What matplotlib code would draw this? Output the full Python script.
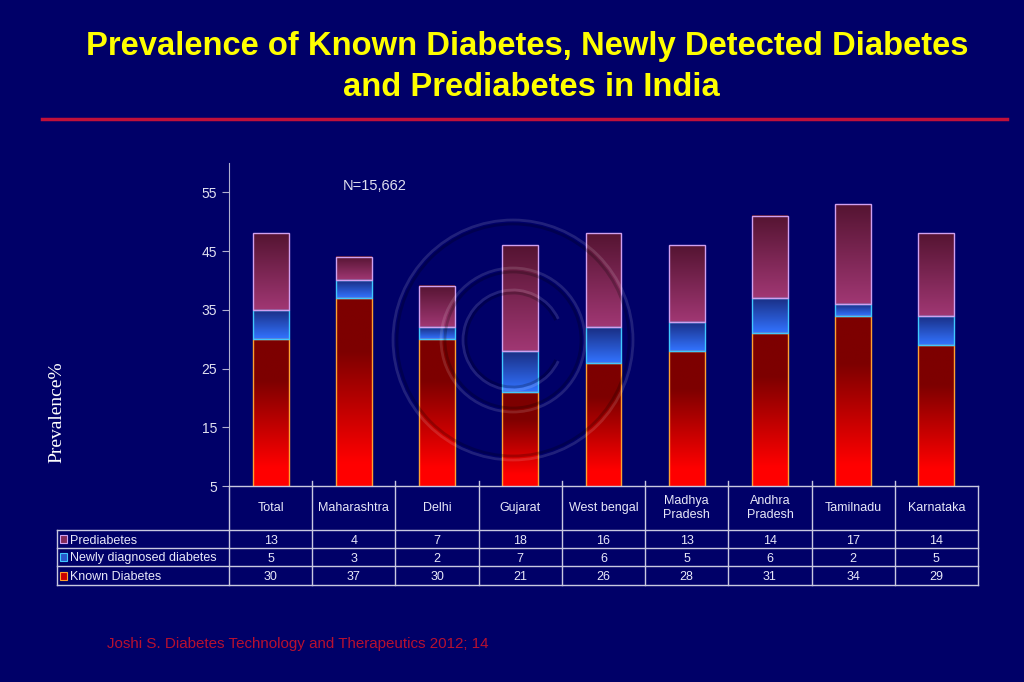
import numpy as np
import matplotlib
matplotlib.use("Agg")
import matplotlib.pyplot as plt
from matplotlib.patches import Rectangle, Arc, Ellipse

categories = ["Total", "Maharashtra", "Delhi", "Gujarat", "West bengal",
              "Madhya\nPradesh", "Andhra\nPradesh", "Tamilnadu", "Karnataka"]
known = [30, 37, 30, 21, 26, 28, 31, 34, 29]
newly = [5, 3, 2, 7, 6, 5, 6, 2, 5]
prediab = [13, 4, 7, 18, 16, 13, 14, 17, 14]
series_names = ["Prediabetes", "Newly diagnosed diabetes", "Known Diabetes"]
yticks = [5, 15, 25, 35, 45, 55]

BG = "#000068"
W, H = 1024, 682
fig = plt.figure(figsize=(W / 100, H / 100), dpi=100, facecolor=BG)

def fx(px):
    return px / W

def fy(py):
    return 1 - py / H

# Title
tkw = dict(color="#ffff00", fontsize=23.6, fontweight="bold", family="Liberation Sans",
           ha="center", va="center")
fig.text(fx(527), fy(47), "Prevalence of Known Diabetes, Newly Detected Diabetes", **tkw)
fig.text(fx(531), fy(88), "and Prediabetes in India", **tkw)
fig.add_artist(plt.Line2D([fx(42), fx(1007)], [fy(119), fy(119)], color="#c0103a", lw=2.5))

# Axes
ax_l, ax_r, ax_t, ax_b = 229, 978, 163, 486
ax = fig.add_axes([fx(ax_l), fy(ax_b), fx(ax_r - ax_l), (ax_b - ax_t) / H])
ax.set_facecolor(BG)
YMIN, YMAX = 5, 60
for s in ["top", "right", "bottom"]:
    ax.spines[s].set_visible(False)
ax.spines["left"].set_color("#b0b0d0")
ax.set_yticks(yticks)
ax.tick_params(axis="y", colors="#b0b0d0", labelcolor="#e0e0f0", labelsize=10, length=5)
for lab in ax.get_yticklabels():
    lab.set_family("Liberation Sans")
ax.set_xticks([])

cmaps = {
    "known": ((255, 0, 0), (125, 0, 0), "#ffa030"),
    "newly": ((50, 115, 255), (25, 45, 130), "#40c8ff"),
    "pre": ((160, 55, 115), (85, 20, 50), "#d0a0f0"),
}

def grad_bar(x, bottom, height, key, width=0.43):
    lo, hi, edge = cmaps[key]
    vis_bottom = max(bottom, YMIN)
    top = bottom + height
    n = 64
    t = np.linspace(0, 1, n)
    if key == "known":
        t = np.clip((t - 0.12) / 0.6, 0, 1)
    t = t[:, None]
    lo = np.array(lo) / 255.0
    hi = np.array(hi) / 255.0
    img = lo[None, None, :] * (1 - t[..., None]) + hi[None, None, :] * t[..., None]
    ax.imshow(img, extent=[x - width / 2, x + width / 2, vis_bottom, top],
              origin="lower", aspect="auto", zorder=2, interpolation="bilinear")
    ax.add_patch(Rectangle((x - width / 2, bottom), width, height, fill=False,
                           edgecolor=edge, lw=1.0, zorder=3))

xs = np.arange(len(categories))
for i in xs:
    grad_bar(i, 0, known[i], "known")
    grad_bar(i, known[i], newly[i], "newly")
    grad_bar(i, known[i] + newly[i], prediab[i], "pre")
ax.set_xlim(-0.5, len(categories) - 0.5)
ax.set_ylim(YMIN, YMAX)

ax.text((343 - ax_l) / (ax_b - ax_t) * 0 + (343 - ax_l) / (ax_r - ax_l), 0.93, "N=15,662",
        transform=ax.transAxes, color="#e0e0f0", fontsize=10.5, family="Liberation Sans",
        ha="left", va="center")

# Y label
fig.text(fx(57), fy(412), "Prevalence%", rotation=90, color="#ffffff",
         fontsize=14, family="Liberation Serif", ha="center", va="center")

# Table
lc = "#c8c8e0"
tab_left = 57
row_y = [486, 530, 548, 566, 585]
colw = (ax_r - ax_l) / len(categories)
col_x = [ax_l + k * colw for k in range(len(categories) + 1)]

def hline(y, x0, x1):
    fig.add_artist(plt.Line2D([fx(x0), fx(x1)], [fy(y), fy(y)], color=lc, lw=1.0))

def vline(x, y0, y1):
    fig.add_artist(plt.Line2D([fx(x), fx(x)], [fy(y0), fy(y1)], color=lc, lw=1.0))

hline(row_y[0], ax_l, ax_r)
for y in row_y[1:]:
    hline(y, tab_left, ax_r)
vline(tab_left, row_y[1], row_y[-1])
for k, x in enumerate(col_x):
    vline(x, row_y[0] - (5 if 0 < k < len(categories) else 0), row_y[-1])

tfont = dict(color="#e8e8f8", fontsize=9, family="Liberation Sans")
for i, c in enumerate(categories):
    cx = (col_x[i] + col_x[i + 1]) / 2
    fig.text(fx(cx), fy((row_y[0] + row_y[1]) / 2), c, ha="center", va="center",
             linespacing=1.2, **tfont)

rows = [prediab, newly, known]
keys = ["pre", "newly", "known"]
for r, (vals, name, key) in enumerate(zip(rows, series_names, keys)):
    yc = (row_y[r + 1] + row_y[r + 2]) / 2
    lo, hi, edge = cmaps[key]
    col = tuple(np.array(lo) / 255.0 * 0.6 + np.array(hi) / 255.0 * 0.4)
    fig.add_artist(Rectangle((fx(tab_left + 3), fy(yc + 4)), fx(7), 8 / H,
                             facecolor=col, edgecolor=edge, lw=0.8))
    fig.text(fx(tab_left + 13), fy(yc), name, ha="left", va="center_baseline", **tfont)
    for i, v in enumerate(vals):
        cx = (col_x[i] + col_x[i + 1]) / 2
        fig.text(fx(cx), fy(yc), str(v), ha="center", va="center_baseline", **tfont)

# Watermark (faint copyright rings)
cxw, cyw = fx(513), fy(340)
for rad, colr, a in [(120, "white", 0.13), (116, "black", 0.22), (72, "white", 0.13),
                     (68, "black", 0.22)]:
    e = Ellipse((cxw, cyw), 2 * rad / W, 2 * rad / H, fill=False,
                edgecolor=colr, alpha=a, lw=2, transform=fig.transFigure)
    fig.add_artist(e)
for rad, colr, a in [(50, "white", 0.13), (47, "black", 0.22)]:
    arc = Arc((cxw, cyw), 2 * rad / W, 2 * rad / H, theta1=35, theta2=325,
              edgecolor=colr, alpha=a, lw=2, transform=fig.transFigure)
    fig.add_artist(arc)

# Citation
fig.text(fx(107), fy(644), "Joshi S. Diabetes Technology and Therapeutics 2012; 14",
         color="#b81030", fontsize=10.9, family="Liberation Sans", ha="left", va="center")

fig.savefig("out.png", dpi=100, facecolor=BG)
